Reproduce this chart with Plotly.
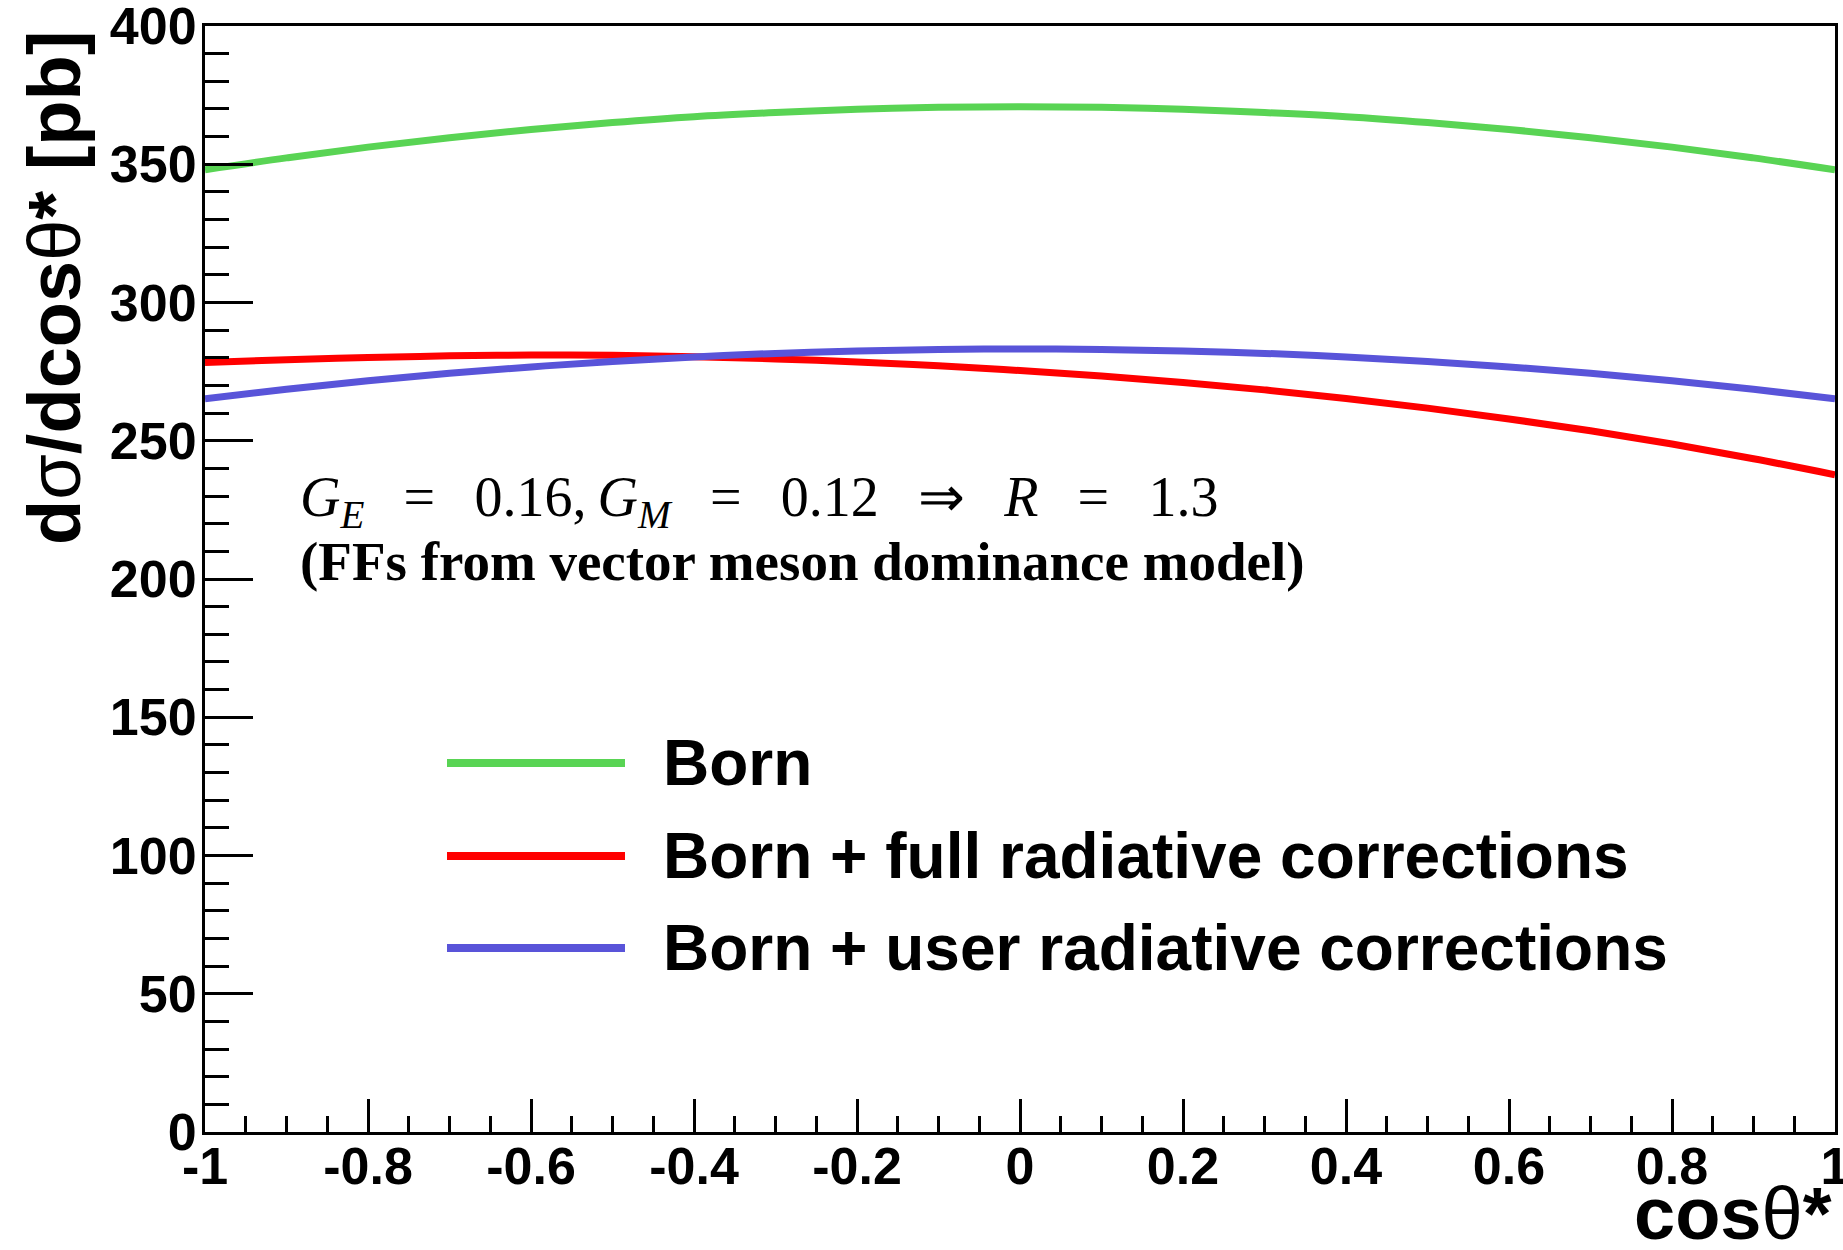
import plotly.graph_objects as go

# ---- data ----
cos_theta = [-1.0, -0.9, -0.8, -0.7, -0.6, -0.5, -0.4, -0.3, -0.2, -0.1, 0.0,
             0.1, 0.2, 0.3, 0.4, 0.5, 0.6, 0.7, 0.8, 0.9, 1.0]
born = [348.0, 352.3, 356.2, 359.6, 362.6, 365.1, 367.2, 368.7, 369.9, 370.6, 370.8,
        370.6, 369.9, 368.7, 367.2, 365.1, 362.6, 359.6, 356.2, 352.3, 348.0]
born_full_rc = [278.3, 279.3, 280.1, 280.7, 281.0, 280.9, 280.4, 279.6, 278.5, 277.1, 275.4,
                273.4, 271.1, 268.4, 265.3, 261.8, 257.9, 253.6, 248.8, 243.5, 237.7]
born_user_rc = [265.2, 268.6, 271.7, 274.4, 276.7, 278.7, 280.3, 281.6, 282.5, 283.0, 283.2,
                283.0, 282.5, 281.6, 280.3, 278.7, 276.7, 274.4, 271.7, 268.6, 265.2]

series_names = ["Born", "Born + full radiative corrections", "Born + user radiative corrections"]
series_colors = ["rgb(89,212,84)", "rgb(255,0,0)", "rgb(89,84,217)"]

x_tick_vals = [-1, -0.8, -0.6, -0.4, -0.2, 0, 0.2, 0.4, 0.6, 0.8, 1]
x_tick_text = ["-1", "-0.8", "-0.6", "-0.4", "-0.2", "0", "0.2", "0.4", "0.6", "0.8", "1"]
y_tick_vals = [0, 50, 100, 150, 200, 250, 300, 350, 400]
y_tick_text = ["0", "50", "100", "150", "200", "250", "300", "350", "400"]

W, H = 1843, 1250
ML, MR, MT, MB = 205, 8, 26, 118
PW, PH = W - ML - MR, H - MT - MB


def px_x(px):
    return (px - ML) / PW


def px_y(py):
    return (H - MB - py) / PH


fig = go.Figure()
for ys, name, col in zip([born, born_full_rc, born_user_rc], series_names, series_colors):
    fig.add_trace(go.Scatter(x=cos_theta, y=ys, mode="lines", name=name,
                             line=dict(color=col, width=7, shape="spline"),
                             showlegend=False))

sans = "Liberation Sans, Arial, Helvetica, sans-serif"
serif = "Liberation Serif, Times New Roman, serif"

fig.update_layout(
    width=W, height=H,
    margin=dict(l=ML, r=MR, t=MT, b=MB, pad=0, autoexpand=False),
    plot_bgcolor="white", paper_bgcolor="white",
    xaxis=dict(range=[-1, 1], tickvals=x_tick_vals, ticktext=x_tick_text,
               ticks="inside", ticklen=33, tickwidth=3, tickcolor="black",
               minor=dict(ticks="inside", ticklen=16, tickwidth=3, tickcolor="black",
                          dtick=0.05, tick0=-1, showgrid=False),
               showline=True, linewidth=3, linecolor="black", mirror=True,
               showgrid=False, zeroline=False, automargin=False,
               tickfont=dict(family=sans, size=52, color="black", weight="bold"),
               ticklabeloverflow="allow",
               ticklabelstandoff=-13),
    yaxis=dict(range=[0, 400], tickvals=y_tick_vals, ticktext=y_tick_text,
               ticks="inside", ticklen=48, tickwidth=3, tickcolor="black",
               minor=dict(ticks="inside", ticklen=24, tickwidth=3, tickcolor="black",
                          dtick=10, tick0=0, showgrid=False),
               showline=True, linewidth=3, linecolor="black", mirror=True,
               showgrid=False, zeroline=False, automargin=False,
               tickfont=dict(family=sans, size=52, color="black", weight="bold"),
               ticklabeloverflow="allow",
               ticklabelstandoff=-5),
)

annotations = []
# axis titles
annotations.append(dict(xref="paper", yref="paper", x=px_x(55), y=px_y(29),
                        xanchor="center", yanchor="top", textangle=-90, showarrow=False,
                        text="<b>d</b>σ<b>/dcos</b>θ<b>* [pb]</b>",
                        font=dict(family=sans, size=74, color="black")))
annotations.append(dict(xref="paper", yref="paper", x=px_x(1834), y=px_y(1257),
                        xanchor="right", yanchor="bottom", showarrow=False,
                        text="<b>cos</b>θ<b>*</b>",
                        font=dict(family=sans, size=74, color="black")))
# physics text
sp = "\u2002\u2009"
annotations.append(dict(xref="paper", yref="paper", x=px_x(298), y=px_y(501),
                        xanchor="left", yanchor="middle", showarrow=False,
                        text=("<i>G</i><sub><i>E</i></sub>" + sp + "=" + sp + "0.16,\u2009"
                              "<i>G</i><sub><i>M</i></sub>" + sp + "=" + sp + "0.12" + sp + "⇒" + sp
                              + "<i>R</i>" + sp + "=" + sp + "1.3"),
                        font=dict(family=serif, size=56, color="black")))
annotations.append(dict(xref="paper", yref="paper", x=px_x(298), y=px_y(561),
                        xanchor="left", yanchor="middle", showarrow=False,
                        text="<b>(FFs from vector meson dominance model)</b>",
                        font=dict(family=serif, size=55, color="black")))

# manual legend
legend_y = [763, 856, 948]
shapes = []
for ly, name, col in zip(legend_y, series_names, series_colors):
    shapes.append(dict(type="line", xref="paper", yref="paper",
                       x0=px_x(447), x1=px_x(625), y0=px_y(ly), y1=px_y(ly),
                       line=dict(color=col, width=8)))
    annotations.append(dict(xref="paper", yref="paper", x=px_x(661), y=px_y(ly),
                            xanchor="left", yanchor="middle", showarrow=False,
                            text="<b>" + name + "</b>",
                            font=dict(family=sans, size=64, color="black")))

fig.update_layout(annotations=annotations, shapes=shapes)
fig.write_html("out.html")
